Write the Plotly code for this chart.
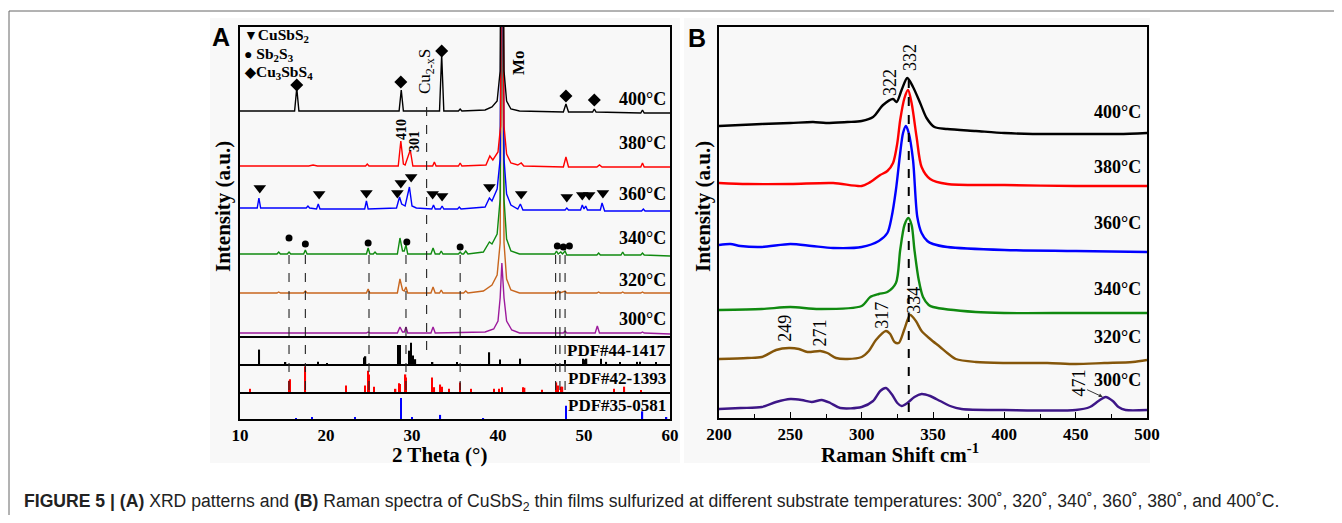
import plotly.graph_objects as go

# the page body adds an 8 px margin; the figure is sized to fit the 1342x523 window
PAGE_W, PAGE_H, BODY = 1342, 523, 8
W, H = PAGE_W - 2 * BODY, PAGE_H - 2 * BODY
SERIF = "Liberation Serif"
SANS = "Liberation Sans"

# ---------------- Panel A : XRD data (2theta in degrees, intensity a.u.) ----------------
xrd_labels = ["300°C", "320°C", "340°C", "360°C", "380°C", "400°C"]
xrd_colors = ["#9c1a9c", "#c8661e", "#108a10", "#0000ff", "#ff0000", "#000000"]
xrd_offsets = [3, 43, 82, 127, 170, 225]

xrd_300_tt = [10, 24.7, 24.9, 25.1, 28.3, 28.6, 28.9, 29.1, 29.3, 29.5, 32.2, 32.45, 32.7, 38.5, 39.5, 40.0, 40.25,
              40.45, 40.7, 41.0, 41.6, 42.5, 47.6, 47.8, 48.0, 51.3, 51.55, 51.8, 56.6, 56.8, 57.0, 60]
xrd_300_int = [0, 0, 1, 0, 0, 6, 1, 1, 6, 0, 0, 6, 0, 1, 4, 12, 35, 70, 35, 12, 3, 0, 0, 2, 0, 0, 7, 0, 0, 1, 0, -1]

xrd_320_tt = [10, 14.3, 14.5, 14.7, 17.4, 17.6, 17.8, 24.7, 24.9, 25.1, 28.3, 28.6, 28.9, 29.1, 29.3, 29.5, 32.2,
              32.45, 32.7, 33.2, 33.4, 33.6, 36.0, 36.25, 36.5, 38.3, 39.3, 39.9, 40.25, 40.45, 40.7, 41.0, 41.5,
              42.5, 46.8, 47.0, 47.2, 47.8, 48.0, 51.5, 51.7, 51.9, 54.3, 54.5, 54.7, 56.6, 56.8, 57.0, 60]
xrd_320_int = [0, 0, 1, 0, 0, 2, 0, 0, 4, 0, 0, 14, 3, 2, 6, 0, 0, 6, 0, 0, 3, 0, 0, 2, 0, 2, 8, 18, 50, 400, 50,
               14, 3, 0, 0, 2, 0, 2, 0, 0, 1, 0, 0, 1, 0, 0, 1, 0, 0]

xrd_340_tt = [10, 14.3, 14.5, 14.7, 15.5, 15.7, 15.9, 17.4, 17.6, 17.8, 24.7, 24.9, 25.1, 25.5, 25.7, 25.9, 28.3,
              28.6, 28.9, 29.1, 29.3, 29.5, 32.2, 32.45, 32.7, 33.2, 33.4, 33.6, 35.4, 35.6, 35.8, 36.0, 36.25,
              36.5, 38.3, 39.0, 39.3, 39.9, 40.25, 40.45, 40.7, 41.0, 41.5, 42.5, 46.6, 46.8, 47.0, 47.3, 47.5,
              47.8, 48.0, 51.5, 51.7, 51.9, 54.3, 54.5, 54.7, 56.6, 56.8, 57.0, 60]
xrd_340_int = [0, 0, 2, 0, 0, 2, 0, 0, 4, 0, 0, 6, 0, 0, 2, 0, 0, 16, 3, 3, 9, 0, 0, 6, 0, 0, 3, 0, 0, 2, 0, 0, 3,
               0, 2, 12, 10, 20, 55, 400, 55, 15, 3, 0, 0, 3, 0, 2, 0, 3, -1, -1, 1, -1, -1, 2, -1, -1, 1, -1, -2]

xrd_360_tt = [10, 12.0, 12.2, 12.4, 15, 17.7, 17.9, 18.1, 18.9, 19.1, 19.3, 21, 24.5, 24.7, 24.9, 28.2, 28.55,
              28.8, 29.2, 29.7, 30.0, 30.5, 32.3, 32.5, 32.7, 33.3, 33.5, 33.7, 35.3, 35.5, 35.7, 38.5, 39.0, 39.3,
              39.9, 40.25, 40.45, 40.7, 41.0, 41.5, 42.3, 42.6, 42.9, 47.8, 48.0, 48.2, 49.6, 49.8, 50.0, 50.2,
              50.4, 51.9, 52.1, 52.4, 56.7, 56.9, 57.1, 60]
xrd_360_int = [1, 1, 11, 1, 1, 1, 3, 1, 0, 5, 0, 0, 0, 8, 0, 1, 12, 5, 3, 22, 3, 1, 0, 4, 0, 0, 3, 0, 0, 2, 0, 2,
               11, 8, 20, 50, 400, 50, 15, 4, 0, 5, -1, -1, 1, -1, -1, 4, 0, 3, -1, -1, 6, -2, -2, 0, -2, -2]

xrd_380_tt = [10, 18, 18.5, 19, 24.6, 24.8, 25.0, 28.4, 28.7, 29.0, 29.2, 29.8, 30.1, 32.4, 32.6, 32.8, 35.4, 35.6,
              35.8, 38.6, 39.05, 39.4, 40.0, 40.3, 40.45, 40.7, 41.0, 41.5, 42.3, 42.7, 43.0, 47.6, 47.9, 48.2,
              51.5, 51.8, 52.1, 56.6, 56.8, 57.0, 60]
xrd_380_int = [0, 0, 1, 0, 0, 2, 0, 0, 25, 2, 1, 16, 0, 0, 4, 0, 0, 3, 0, 1, 10, 6, 14, 40, 400, 40, 12, 3, 1, 3,
               0, -1, 9, -1, -1, 1, -1, -1, 3, -1, -1]

xrd_400_tt = [10, 14, 16.35, 16.6, 16.85, 20, 25, 28.5, 28.75, 29.0, 31, 33.2, 33.45, 33.7, 35.4, 35.6, 35.8, 38.5,
              39.3, 39.9, 40.25, 40.45, 40.7, 41.0, 41.5, 42.5, 47.6, 47.9, 48.2, 51.0, 51.2, 51.4, 56.6, 56.8,
              57.0, 60]
xrd_400_int = [0, 0, 0, 23, 0, 0, 0, 0, 21, 0, 0, 0, 56, 0, 0, 2, 0, 1, 4, 10, 40, 400, 40, 10, 2, 0, -1, 7, -1,
               -1, 2, -1, -2, 1, -2, -2]

xrd_tt = [xrd_300_tt, xrd_320_tt, xrd_340_tt, xrd_360_tt, xrd_380_tt, xrd_400_tt]
xrd_int = [xrd_300_int, xrd_320_int, xrd_340_int, xrd_360_int, xrd_380_int, xrd_400_int]

# phase markers (2theta, marker height a.u.)
cusbs2_tt = [12.3, 19.2, 24.7, 28.3, 28.7, 29.9, 32.4, 33.5, 39.0, 42.7, 48.0, 49.8, 50.6, 52.2]
cusbs2_y = [148, 142, 143, 143, 153, 159, 142, 140, 149, 142, 139, 141, 141, 143]
sb2s3_tt = [15.7, 17.6, 24.9, 29.4, 35.6, 46.9, 47.6, 48.3]
sb2s3_y = [98, 92, 93, 94, 89, 90, 89, 90]
cu3sbs4_tt = [16.6, 28.7, 33.45, 47.9, 51.2]
cu3sbs4_y = [251, 254, 285, 240, 236]
sb2s3_ref_lines = [15.7, 17.6, 25.0, 29.3, 35.6, 46.7, 47.2, 47.8]
cu2xs_line = 31.7

# reference stick patterns (2theta, relative intensity)
pdf44_tt = [12.25, 15.3, 19.1, 20.1, 24.4, 24.6, 28.4, 28.6, 29.7, 29.9, 30.1, 30.4, 32.4, 35.2, 39.0, 40.2, 42.6,
            47.8, 49.9, 50.1, 50.3, 52.0, 52.6, 54.2, 56.2, 56.5, 58.4]
pdf44_h = [0.54, 0.04, 0.08, 0.03, 0.24, 0.29, 0.71, 0.71, 0.5, 0.8, 0.32, 0.18, 0.05, 0.05, 0.44, 0.17, 0.2,
           0.15, 0.2, 0.17, 0.2, 0.2, 0.08, 0.05, 0.08, 0.08, 0.05]
pdf42_tt = [11.2, 15.7, 15.8, 17.6, 22.3, 24.5, 24.9, 25.0, 25.6, 28.1, 28.5, 28.6, 29.25, 29.3, 32.3, 32.6, 33.3,
            33.5, 34.3, 35.6, 36.9, 39.5, 40.1, 40.5, 42.9, 43.1, 45.1, 46.8, 47.0, 47.3, 47.5, 53.5, 54.7, 56.6]
pdf42_h = [0.12, 0.42, 0.48, 0.96, 0.24, 0.24, 0.8, 0.66, 0.2, 0.12, 0.33, 0.3, 0.66, 0.54, 0.54, 0.18, 0.28, 0.2,
           0.12, 0.36, 0.12, 0.12, 0.12, 0.18, 0.18, 0.16, 0.08, 0.36, 0.24, 0.2, 0.2, 0.12, 0.2, 0.06]
pdf35_tt = [16.5, 18.4, 23.4, 28.7, 30.0, 33.3, 38.3, 47.9, 56.8, 59.6]
pdf35_h = [0.03, 0.06, 0.04, 0.82, 0.04, 0.16, 0.03, 0.52, 0.3, 0.04]
pdf_labels = ["PDF#44-1417", "PDF#42-1393", "PDF#35-0581"]

# ---------------- Panel B : Raman data (cm-1, intensity a.u.) ----------------
raman_offsets = [9, 59, 108, 173, 235, 292]
raman_colors = ["#3d1687", "#85560a", "#108a10", "#0000ff", "#ff0000", "#000000"]

raman_300_x = [200, 215, 230, 240, 250, 258, 265, 272, 278, 285, 300, 308, 313, 317, 321, 325, 328, 332, 337, 342,
               348, 355, 362, 370, 400, 450, 460, 466, 471, 476, 480, 485, 500]
raman_300_y = [0, 1, 2, 7, 10, 9, 7, 9, 6, 1, 2, 8, 18, 21, 15, 6, 3, 6, 12, 15, 13, 8, 3, 0, -1, -1, 2, 8, 12, 8,
               2, -1, -1]
raman_320_x = [200, 220, 230, 240, 249, 256, 262, 271, 276, 282, 290, 300, 305, 310, 317, 320, 323, 326, 330, 334,
               338, 342, 348, 355, 360, 366, 380, 400, 430, 450, 470, 490, 500]
raman_320_y = [0, 1, 2, 9, 11, 10, 7, 8, 6, 1, 0, 2, 8, 19, 28, 25, 17, 16, 30, 44, 38, 28, 20, 12, 6, 0, -3, -4,
               -4, -5, -4, -3, -1]
raman_340_x = [200, 230, 250, 270, 300, 306, 312, 318, 324, 327, 330, 332.7, 335, 337, 340, 343, 347, 350, 380,
               400, 450, 500]
raman_340_y = [0, 1, 3, 1, 4, 13, 16, 18, 27, 60, 85, 92, 85, 60, 30, 13, 5, 3, -2, -3, -3, -3]
raman_360_x = [200, 208, 215, 230, 250, 265, 280, 300, 312, 318, 321, 324, 327, 329, 331, 333, 336, 339, 342, 346,
               350, 360, 400, 450, 500]
raman_360_y = [0, 1, -1, -2, 1, -1, -3, -2, 4, 12, 28, 55, 92, 112, 119, 112, 85, 28, 12, 4, 1, -2, -5, -6, -7]
raman_380_x = [200, 220, 250, 280, 300, 305, 313, 318, 322, 325, 327, 330, 332.5, 335, 338.5, 342, 348, 360, 400,
               450, 500]
raman_380_y = [0, -1, -1, 0, -3, 0, 8, 12, 20, 40, 63, 85, 93, 80, 46, 16, 4, -1, -2, -3, -3]
raman_400_x = [200, 215, 230, 250, 266, 275, 290, 300, 308, 315, 322, 324.5, 328, 332, 336, 341, 345.5, 351, 360,
               380, 400, 420, 450, 480, 500]
raman_400_y = [0, 1, 2, 3, 4, 3, 4, 5, 9, 21, 27, 24, 36, 48, 39, 23, 8, -1, -3, -5, -7, -8, -8, -8, -7]

raman_x = [raman_300_x, raman_320_x, raman_340_x, raman_360_x, raman_380_x, raman_400_x]
raman_y = [raman_300_y, raman_320_y, raman_340_y, raman_360_y, raman_380_y, raman_400_y]

raman_peak_text = ["322", "332", "249", "271", "317", "334", "471"]
raman_peak_x = [319.8, 333.8, 246, 270.5, 314, 336.5, 452.6]
raman_peak_y = [336, 361, 90, 85, 103, 118, 35]
raman_ref_line = 333

# ---------------- figure ----------------
fig = go.Figure()

def fx(p):
    return (p - BODY) / W

def fy(p):
    return 1 - (p - BODY) / H

for i in range(6):
    fig.add_trace(go.Scatter(
        x=xrd_tt[i], y=[v + xrd_offsets[i] for v in xrd_int[i]], mode="lines",
        line=dict(color=xrd_colors[i], width=1.4), xaxis="x", yaxis="y", hoverinfo="skip"))

fig.add_trace(go.Scatter(x=cusbs2_tt, y=cusbs2_y, mode="markers", xaxis="x", yaxis="y",
                         marker=dict(symbol="triangle-down", size=11, color="black")))
fig.add_trace(go.Scatter(x=sb2s3_tt, y=sb2s3_y, mode="markers", xaxis="x", yaxis="y",
                         marker=dict(symbol="circle", size=7, color="black")))
fig.add_trace(go.Scatter(x=cu3sbs4_tt, y=cu3sbs4_y, mode="markers", xaxis="x", yaxis="y",
                         marker=dict(symbol="diamond", size=10, color="black")))

for tt, hh, col, ax in [(pdf44_tt, pdf44_h, "black", "2"), (pdf42_tt, pdf42_h, "#ff0000", "3"),
                        (pdf35_tt, pdf35_h, "#0000ff", "4")]:
    fig.add_trace(go.Bar(x=tt, y=hh, width=0.16, marker=dict(color=col, line=dict(width=0)),
                         xaxis="x" + ax, yaxis="y" + ax))

for i in range(6):
    fig.add_trace(go.Scatter(
        x=raman_x[i], y=[v + raman_offsets[i] for v in raman_y[i]], mode="lines",
        line=dict(color=raman_colors[i], width=2.4, shape="spline", smoothing=0.8),
        xaxis="x5", yaxis="y5", hoverinfo="skip"))

box = dict(showline=True, mirror=True, linecolor="black", linewidth=1.5, showgrid=False, zeroline=False,
           automargin=False)
sub = dict(showline=True, mirror=False, linecolor="black", linewidth=1.5, showgrid=False, zeroline=False,
           automargin=False)
A_X = [fx(240), fx(670)]
fig.update_layout(
    xaxis=dict(domain=A_X, range=[10, 60], anchor="y", showticklabels=False, ticks="", **box),
    yaxis=dict(domain=[fy(336), fy(27)], range=[0, 309], anchor="x", showticklabels=False, ticks="", **box),
    xaxis2=dict(domain=A_X, range=[10, 60], anchor="y2", showticklabels=False, ticks="", **sub),
    yaxis2=dict(domain=[fy(364), fy(336)], range=[0, 1.05], anchor="x2", showticklabels=False, ticks="", **box),
    xaxis3=dict(domain=A_X, range=[10, 60], anchor="y3", showticklabels=False, ticks="", **sub),
    yaxis3=dict(domain=[fy(392), fy(364)], range=[0, 1.05], anchor="x3", showticklabels=False, ticks="", **box),
    xaxis4=dict(domain=A_X, range=[10, 60], anchor="y4", tickvals=[10, 20, 30, 40, 50, 60], ticks="",
                tickfont=dict(family=SERIF, size=17, color="black", weight="bold"), **sub),
    yaxis4=dict(domain=[fy(419), fy(392)], range=[0, 1.05], anchor="x4", showticklabels=False, ticks="", **box),
    xaxis5=dict(domain=[fx(719), fx(1147)], range=[200, 500], anchor="y5", tickvals=[200, 250, 300, 350, 400, 450, 500],
                ticks="inside", ticklen=6, tickwidth=1.3, tickcolor="black",
                minor=dict(tickvals=[225, 275, 325, 375, 425, 475], ticks="inside", ticklen=4, tickcolor="black"),
                tickfont=dict(family=SERIF, size=17, color="black", weight="bold"), **box),
    yaxis5=dict(domain=[fy(418), fy(27)], range=[0, 391], anchor="x5", showticklabels=False, ticks="", **box),
    width=W, height=H, margin=dict(l=0, r=0, t=0, b=0, pad=0, autoexpand=False),
    paper_bgcolor="white", plot_bgcolor="rgba(0,0,0,0)", showlegend=False,
)

shapes = [
    dict(type="rect", xref="paper", yref="paper", x0=fx(210), x1=fx(680), y0=fy(463), y1=fy(18),
         fillcolor="#f8f8f8", line=dict(width=0), layer="below"),
    dict(type="rect", xref="paper", yref="paper", x0=fx(684), x1=fx(1150), y0=fy(463), y1=fy(18),
         fillcolor="#f8f8f8", line=dict(width=0), layer="below"),
    dict(type="line", xref="paper", yref="paper", x0=fx(9), x1=1, y0=fy(11), y1=fy(11),
         line=dict(color="#666", width=1)),
    dict(type="line", xref="paper", yref="paper", x0=fx(9), x1=fx(9), y0=0, y1=fy(11),
         line=dict(color="#666", width=1)),
]
for t in sb2s3_ref_lines:
    shapes.append(dict(type="line", xref="x", yref="paper", x0=t, x1=t, y0=fy(390), y1=fy(247),
                       line=dict(color="#222", width=1.1, dash="dash")))
shapes.append(dict(type="line", xref="x", yref="paper", x0=cu2xs_line, x1=cu2xs_line, y0=fy(350), y1=fy(104),
                   line=dict(color="#222", width=1.1, dash="dash")))
shapes.append(dict(type="line", xref="x5", yref="y5", x0=raman_ref_line, x1=raman_ref_line, y0=6, y1=345,
                   line=dict(color="black", width=2, dash="dash")))
fig.update_layout(shapes=shapes)

ann = []

def txt(text, xp, yp, size, xanchor="center", yanchor="middle", angle=0, family=SERIF, color="black"):
    ann.append(dict(text=text, x=fx(xp), y=fy(yp), xref="paper", yref="paper", showarrow=False,
                    xanchor=xanchor, yanchor=yanchor, textangle=angle,
                    font=dict(family=family, size=size, color=color)))

# panel letters
txt("<b>A</b>", 221, 37, 25, family=SANS)
txt("<b>B</b>", 697, 38, 25, family=SANS)
# legend of phases
G = '<span style="font-size:14px">%s</span>'
txt("<b>" + G % "▼" + "CuSbS<sub>2</sub></b>", 242, 36, 15.5, xanchor="left")
txt("<b>" + G % "●" + " Sb<sub>2</sub>S<sub>3</sub></b>", 242, 54, 15.5, xanchor="left")
txt("<b>" + G % "◆" + "Cu<sub>3</sub>SbS<sub>4</sub></b>", 242, 72.5, 15.5, xanchor="left")
# rotated labels in panel A
txt("Cu<sub>2-x</sub>S", 426, 72, 17, angle=-90)
txt("<b>Mo</b>", 518, 63, 17, angle=-90)
txt("<b>410</b>", 401, 130, 14, angle=-90)
txt("<b>301</b>", 414, 142, 14, angle=-90)
# temperature labels panel A
for lab, yp in zip(xrd_labels, [319, 280, 238, 194, 143, 99]):
    txt("<b>%s</b>" % lab, 668, yp, 18, xanchor="right")
for lab, yp in zip(pdf_labels, [350, 378, 405]):
    txt("<b>%s</b>" % lab, 668, yp, 17, xanchor="right")
# temperature labels panel B
for lab, yp in zip(xrd_labels, [380, 337, 289, 223, 167, 112]):
    txt("<b>%s</b>" % lab, 1143, yp, 18, xanchor="right")
# axis titles
txt("<b>Intensity (a.u.)</b>", 223, 207, 21, angle=-90)
txt("<b>Intensity (a.u.)</b>", 703, 207, 21, angle=-90)
txt("<b>2 Theta (°)</b>", 440, 455, 21)
txt("<b>Raman Shift cm<sup>-1</sup></b>", 900, 453, 21)
# caption
txt("<b>FIGURE 5 | (A)</b> XRD patterns and <b>(B)</b> Raman spectra of CuSbS<sub>2</sub> thin films sulfurized at "
    "different substrate temperatures: 300˚, 320˚, 340˚, 360˚, 380˚, and 400˚C.", 22, 502.5, 17.6,
    xanchor="left", family=SANS, color="#222")

# Raman peak labels
for t, xv, yv in zip(raman_peak_text, raman_peak_x, raman_peak_y):
    ann.append(dict(text=t, x=xv, y=yv, xref="x5", yref="y5", showarrow=False, textangle=-90,
                    font=dict(family=SERIF, size=18, color="black")))
ann.append(dict(text="", x=469, y=21, ax=457, ay=29, xref="x5", yref="y5", axref="x5", ayref="y5",
                showarrow=True, arrowhead=2, arrowsize=0.8, arrowwidth=1, arrowcolor="#333"))

fig.update_layout(annotations=ann)
fig.write_html("out.html")
